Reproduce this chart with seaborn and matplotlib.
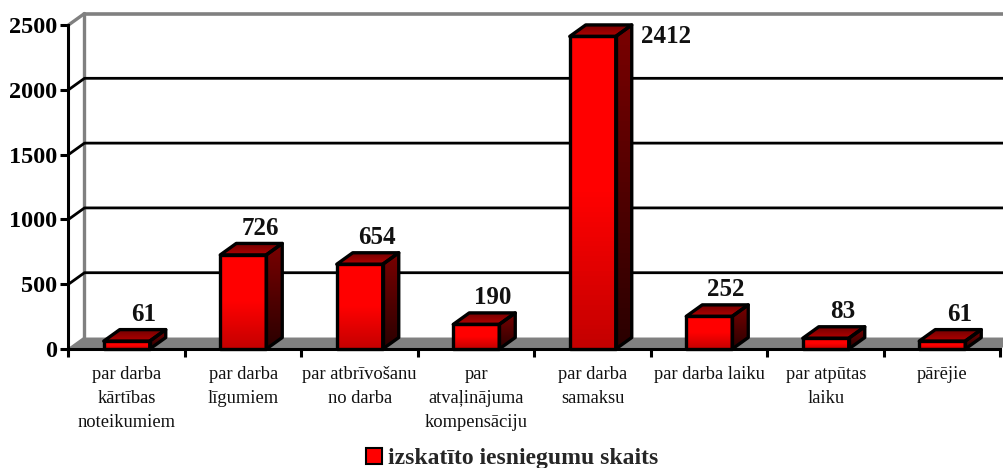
import numpy as np
import pandas as pd
import matplotlib.pyplot as plt
from matplotlib.patches import Patch, Polygon
from matplotlib.colors import LinearSegmentedColormap
import seaborn as sns

categories = [
    "par darba\nkārtības\nnoteikumiem",
    "par darba\nlīgumiem",
    "par atbrīvošanu\nno darba",
    "par\natvaļinājuma\nkompensāciju",
    "par darba\nsamaksu",
    "par darba laiku",
    "par atpūtas\nlaiku",
    "pārējie",
]
values = [61, 726, 654, 190, 2412, 252, 83, 61]
y_ticks = [0, 500, 1000, 1500, 2000, 2500]
series_name = "izskatīto iesniegumu skaits"

W, H = 1004, 468
# depth of the fake 3d box, in data units
DX = 16 / 116.5
DY = 11.5 / 0.1298

sns.set_theme(style="white")
plt.rcParams["font.family"] = ["Liberation Serif", "DejaVu Serif"]

fig = plt.figure(figsize=(W / 100, H / 100), dpi=100)
ax = fig.add_axes([68.5 / W, 1 - 349 / H, 932 / W, 324 / H])

df = pd.DataFrame({"cat": categories, "val": values})
sns.barplot(data=df, x="cat", y="val", color="#ff0000", width=46 / 116.5,
            saturation=1, ax=ax, zorder=5, edgecolor="none")
ax.set_xlim(-0.5, 7.5)
ax.set_ylim(0, 2500)
ax.set_xlabel("")
ax.set_ylabel("")
for s in ["top", "right"]:
    ax.spines[s].set_visible(False)
for s in ["left", "bottom"]:
    ax.spines[s].set_linewidth(2.2)
    ax.spines[s].set_color("black")
    ax.spines[s].set_zorder(4)

# ticks sit on category boundaries, labels in the middle
ax.set_xticks(np.arange(-0.5, 8, 1))
ax.set_xticklabels([])
ax.set_xticks(np.arange(8), labels=categories, minor=True)
ax.tick_params(axis="x", which="major", length=6, width=2.2, color="black", bottom=True)
ax.tick_params(axis="x", which="minor", length=0, pad=12, labelsize=13.3, labelcolor="#111111")
for t in ax.get_xticklabels(minor=True):
    t.set_linespacing(1.55)
    t.set_verticalalignment("top")
ax.set_yticks(y_ticks)
ax.tick_params(axis="y", length=6, width=2.2, color="black", left=True, pad=2, labelsize=17.5)
for t in ax.get_yticklabels():
    t.set_fontweight("bold")
    t.set_color("black")

# floor and back wall
x0, x1 = -0.5, 7.5
ax.add_patch(Polygon([(x0, 0), (x0 + DX, DY), (x1 + DX, DY), (x1, 0)], closed=True,
                     fc="#808080", ec="none", zorder=1, clip_on=False))
ax.plot([x0 + DX, x0 + DX], [DY, 2500 + DY], color="#808080", lw=2.4, zorder=2, clip_on=False)
ax.plot([x0, x0 + DX], [0, DY], color="#808080", lw=1.5, zorder=2, clip_on=False)
ax.plot([x0, x0 + DX], [2500, 2500 + DY], color="#808080", lw=2.4, zorder=2, clip_on=False)
ax.plot([x0 + DX, x1 + DX], [2500 + DY, 2500 + DY], color="#808080", lw=2.6, zorder=2, clip_on=False)
for v in y_ticks[1:-1]:
    ax.plot([x0, x0 + DX, x1 + DX], [v, v + DY, v + DY], color="black", lw=2, zorder=2, clip_on=False)


def gradient(cmap, extent, clip, z):
    g = np.linspace(1, 0, 64).reshape(-1, 1)
    im = ax.imshow(g, cmap=cmap, extent=extent, aspect="auto", zorder=z, origin="upper")
    im.set_clip_path(clip)


front_cm = LinearSegmentedColormap.from_list("front", ["#c40000", "#ff0000", "#ff0000"])
side_cm = LinearSegmentedColormap.from_list("side", ["#2a0000", "#7a0000"])
top_cm = LinearSegmentedColormap.from_list("top", ["#b00000", "#700000"])

for i, (bar, val) in enumerate(zip(list(ax.patches), values)):
    l, r = bar.get_x(), bar.get_x() + bar.get_width()
    front = [(l, 0), (r, 0), (r, val), (l, val)]
    side = [(r, 0), (r + DX, DY), (r + DX, val + DY), (r, val)]
    top = [(l, val), (r, val), (r + DX, val + DY), (l + DX, val + DY)]
    for pts, cm, ext in [
        (front, front_cm, (l, r, 0, val)),
        (side, side_cm, (r, r + DX, 0, val + DY)),
        (top, top_cm, (l, r + DX, val, val + DY)),
    ]:
        clip = Polygon(pts, closed=True, transform=ax.transData)
        gradient(cm, ext, clip, 6 + i)
        ax.add_patch(Polygon(pts, closed=True, fc="none", ec="black", lw=2.4,
                             joinstyle="round", zorder=6.5 + i, clip_on=False))
    # the tall bar has its label beside it
    if val == max(values):
        ax.text(i + 0.63, val + 2, str(val), ha="center", va="center",
                fontsize=18, fontweight="bold", color="#111111", zorder=30)
    else:
        ax.text(i + 0.145, val + DY + 118, str(val), ha="center", va="center",
                fontsize=18, fontweight="bold", color="#111111", zorder=30)

ax.set_xlim(-0.5, 7.5)
ax.set_ylim(0, 2500)

leg = fig.legend(handles=[Patch(fc="#ff0000", ec="black", lw=1.5, label=series_name)],
                 loc="center", bbox_to_anchor=(512 / W, 1 - 458.5 / H), frameon=False,
                 prop={"size": 17, "weight": "bold"}, handlelength=0.66, handleheight=0.66,
                 handletextpad=0.26, borderpad=0)

fig.savefig("out.png", dpi=100)
